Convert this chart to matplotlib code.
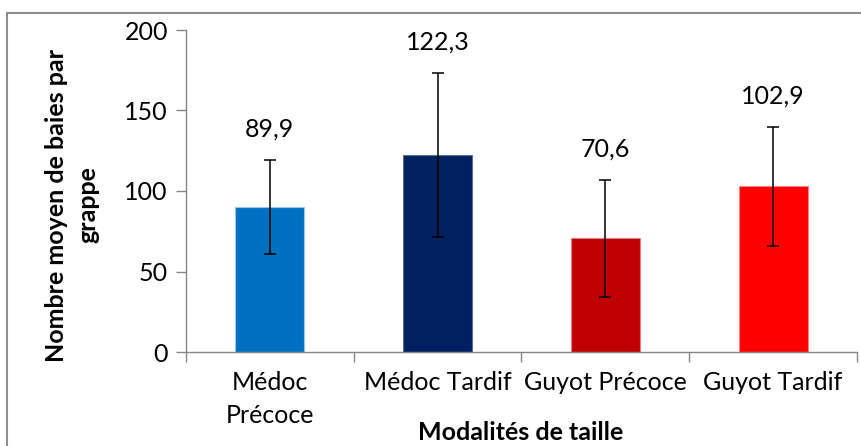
import matplotlib
matplotlib.use('Agg')
import matplotlib.pyplot as plt
from matplotlib.patches import Rectangle

plt.rcParams['font.family'] = ['Lato', 'DejaVu Sans']

categories = ['Médoc\nPrécoce', 'Médoc Tardif', 'Guyot Précoce', 'Guyot Tardif']
means = [89.9, 122.3, 70.6, 102.9]
errors = [29.3, 51.0, 36.5, 37.0]
value_labels = ['89,9', '122,3', '70,6', '102,9']
colors = ['#0070C0', '#002060', '#C00000', '#FF0000']
edge_colors = ['#9DC3E6', '#5B6E9A', '#E08080', '#FF8080']

FS = 18
W, H = 862, 446
fig = plt.figure(figsize=(W / 100, H / 100), dpi=100)
ax = fig.add_axes([186 / W, 1 - 352 / H, (857 - 186) / W, (352 - 30) / H])

x = list(range(len(categories)))
ax.bar(x, means, width=0.41, color=colors, edgecolor=edge_colors, linewidth=0.8, zorder=2)
ax.errorbar(x, means, yerr=errors, fmt='none', ecolor='black', elinewidth=1.1,
            capsize=4.5, capthick=1.1, zorder=3)

for xi, m, e, lab in zip(x, means, errors, value_labels):
    ax.annotate(lab, (xi, m + e), xytext=(0, 22), textcoords='offset points',
                ha='center', va='center', fontsize=FS)

ax.set_xlim(-0.5, len(categories) - 0.5)
ax.set_ylim(0, 200)
ax.set_yticks([0, 50, 100, 150, 200])

ax.set_xticks(x)
ax.set_xticklabels(categories, fontsize=FS, linespacing=1.5)
ax.set_xticks([i - 0.5 for i in range(len(categories) + 1)], minor=True)
ax.tick_params(axis='x', which='major', length=0, pad=14)
ax.tick_params(axis='x', which='minor', length=7, color='#868686', width=1)
ax.tick_params(axis='y', length=7, color='#868686', width=1, labelsize=FS, pad=6)

for side in ['top', 'right']:
    ax.spines[side].set_visible(False)
for side in ['left', 'bottom']:
    ax.spines[side].set_color('#868686')
    ax.spines[side].set_linewidth(1)

fig.text(72 / W, 1 - 205 / H, 'Nombre moyen de baies par\ngrappe', rotation=90,
         ha='center', va='center', multialignment='center', fontsize=FS,
         fontweight='bold', linespacing=1.45)
fig.text(521 / W, 1 - 433 / H, 'Modalités de taille', ha='center', va='center',
         fontsize=FS, fontweight='bold')

# chart frame (runs off the right and bottom of the image)
fig.patches.append(Rectangle((7 / W, -0.1), 1.2, 1 - 13 / H + 0.1, transform=fig.transFigure,
                             fill=False, edgecolor='#8c8c8c', linewidth=1.5))

fig.savefig('out.png', dpi=100)
